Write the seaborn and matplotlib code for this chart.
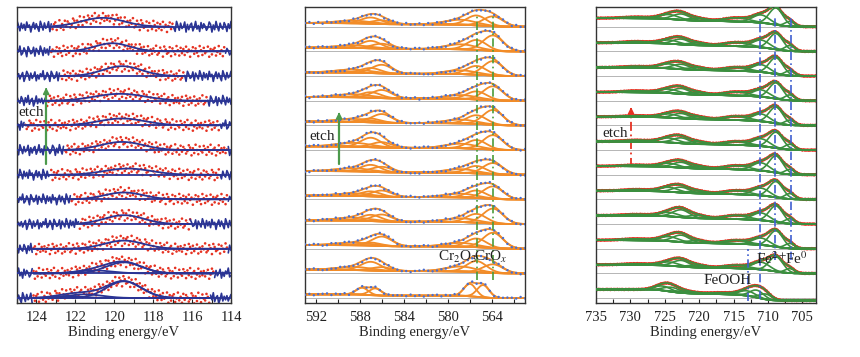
import numpy as np
import pandas as pd
import seaborn as sns
import matplotlib.pyplot as plt

sns.set_theme(style='ticks')
plt.rcParams['font.family'] = ['Liberation Serif', 'DejaVu Serif']
plt.rcParams['mathtext.fontset'] = 'stix'

# hand-read residual scatter (unit amplitude), reused along every spectrum
noise = [0.3, -0.5, 0.8, -0.2, -0.9, 0.4, 0.1, -0.6, 0.9, -0.3, 0.5, -0.8, 0.2, 0.7, -0.4,
         -0.1, 0.6, -0.7, 0.0, 0.9, -0.5, 0.3, -0.9, 0.4, 0.8, -0.2, -0.6, 0.1, 0.5, -0.3,
         0.7, -0.8, 0.2, -0.4, 0.9, -0.1, -0.7, 0.6, 0.3, -0.5, 0.4, -0.9, 0.8, 0.0, -0.3,
         0.6, -0.6, 0.2, 0.9, -0.8, -0.2, 0.5, -0.4, 0.7, 0.1, -0.9, 0.3, -0.1, 0.8, -0.6,
         0.4, -0.3, 0.6, -0.7, 0.2, 0.9, -0.5, 0.0, 0.5, -0.8, 0.7, -0.2, -0.4, 0.3, 0.8,
         -0.9, 0.1, 0.6, -0.3, -0.6, 0.9, -0.1, 0.4, -0.5, 0.2, -0.8, 0.7, 0.0, -0.4, 0.5,
         -0.7, 0.3, 0.8, -0.2, -0.9, 0.6, 0.1, -0.5, 0.4, -0.3]

# ---- panel 1 (rows listed bottom -> top) ----
si_center = [119.5, 119.5, 119.5, 119.5, 119.5, 119.3, 119.6, 119.6, 119.7, 119.6, 120.1, 120.6]
si_height = [0.68, 0.45, 0.33, 0.36, 0.28, 0.25, 0.33, 0.28, 0.28, 0.40, 0.33, 0.36]
si_sigma = [0.9, 0.9, 1.0, 1.0, 1.0, 1.2, 1.1, 1.2, 1.3, 1.0, 0.9, 1.1]
si_fit_lo = [124.2, 124.2, 124.2, 121.8, 122.2, 123.3, 122.6, 124.6, 123.5, 122.8, 123.3, 123.2]
si_fit_hi = [115.1, 114.9, 114.2, 116.1, 114.2, 114.6, 114.2, 114.6, 115.2, 116.4, 114.3, 117.0]
si_sh_row = [0, 0, 1]
si_sh_center = [121.5, 122.4, 121.0]
si_sh_height = [0.15, 0.08, 0.12]
si_sh_sigma = [0.9, 0.8, 0.9]

# ---- panel 2 ----
cr_center = [588.5, 587.0, 586.0, 578.8, 577.4, 575.9]
cr_sigma = [1.6, 0.9, 0.9, 1.4, 0.9, 0.9]
cr_height = [
    None,
    [0.12, 0.35, 0.15, 0.20, 0.45, 0.35],
    [0.10, 0.12, 0.38, 0.15, 0.35, 0.62],
    [0.12, 0.25, 0.28, 0.15, 0.35, 0.60],
    [0.10, 0.20, 0.25, 0.15, 0.30, 0.50],
    [0.12, 0.28, 0.22, 0.15, 0.30, 0.45],
    [0.15, 0.38, 0.22, 0.18, 0.35, 0.58],
    [0.12, 0.15, 0.35, 0.15, 0.35, 0.60],
    [0.12, 0.22, 0.33, 0.15, 0.32, 0.56],
    [0.12, 0.20, 0.35, 0.15, 0.35, 0.58],
    [0.10, 0.30, 0.20, 0.20, 0.40, 0.62],
    [0.10, 0.25, 0.15, 0.20, 0.40, 0.40],
]
cr0_center = [587.8, 586.6, 578.0, 576.8]
cr0_sigma = [0.55, 0.55, 0.55, 0.55]
cr0_height = [0.28, 0.28, 0.50, 0.50]
cr_lines = [577.4, 575.9]

# ---- panel 3 ----
fe_center = [729.0, 724.4, 722.6, 720.2, 714.5, 711.0, 708.8, 706.8]
fe_sigma = [1.8, 1.4, 1.2, 1.3, 1.8, 1.2, 1.0, 0.7]
fe_height = [
    None,
    [0.05, 0.15, 0.25, 0.10, 0.12, 0.30, 0.60, 0.18],
    [0.06, 0.18, 0.28, 0.10, 0.14, 0.28, 0.65, 0.20],
    [0.05, 0.16, 0.30, 0.12, 0.15, 0.30, 0.66, 0.20],
    [0.06, 0.18, 0.22, 0.10, 0.15, 0.30, 0.64, 0.22],
    [0.05, 0.15, 0.22, 0.10, 0.15, 0.32, 0.68, 0.20],
    [0.06, 0.18, 0.22, 0.10, 0.14, 0.30, 0.64, 0.22],
    [0.05, 0.15, 0.20, 0.10, 0.15, 0.30, 0.66, 0.20],
    [0.06, 0.16, 0.22, 0.10, 0.15, 0.28, 0.64, 0.22],
    [0.05, 0.18, 0.20, 0.10, 0.14, 0.30, 0.66, 0.20],
    [0.06, 0.15, 0.22, 0.10, 0.15, 0.30, 0.64, 0.22],
    [0.05, 0.18, 0.24, 0.10, 0.15, 0.32, 0.68, 0.20],
]
fe0_center = [725.3, 724.0, 722.0, 716.5, 713.0, 711.6, 710.3]
fe0_sigma = [1.2, 1.2, 1.5, 2.0, 1.2, 1.0, 0.9]
fe0_height = [0.18, 0.18, 0.08, 0.06, 0.20, 0.30, 0.22]
fe_lines = [711.2, 708.9, 706.7]
feooh_line = 712.9

n_rows = 12
blue = '#2a3494'
red = '#e63222'
orange = '#f28c28'
dotblue = '#4a6fd0'
green = '#3b8f3f'


def gauss(x, c, h, s):
    return h * np.exp(-0.5 * ((x - c) / s) ** 2)


def shirley(env, step):
    cum = np.cumsum(env)
    return step * cum / cum[-1]


def row_noise(k, n):
    return np.resize(np.roll(noise, 17 * k + 5), n)


def draw_lines(ax, curves, color, lw, z=2):
    df = pd.concat(curves, ignore_index=True)
    sns.lineplot(data=df, x='x', y='y', units='curve', estimator=None, sort=False,
                 color=color, lw=lw, ax=ax, legend=False, zorder=z)


def add(curves, x, y):
    curves.append(pd.DataFrame({'x': x, 'y': y, 'curve': len(curves)}))


def style(ax, xlim, major, minor, labels=None):
    ax.set_xlim(*xlim)
    ax.set_ylim(0, n_rows)
    ax.set_yticks([])
    ax.set_xticks(major)
    ax.set_xticks(minor, minor=True)
    if labels is not None:
        ax.set_xticklabels(labels)
    ax.tick_params(axis='x', which='both', direction='in', length=3, width=0.8,
                   labelsize=10.5, pad=6, colors='#222222')
    for sp in ax.spines.values():
        sp.set_color('#333333')
        sp.set_linewidth(1.0)
    ax.set_xlabel('Binding energy/eV', fontsize=10.5, labelpad=1)
    ax.set_ylabel('')


fig = plt.figure(figsize=(8.6, 3.57), dpi=100)
ax1 = fig.add_axes([17 / 860, 54 / 357, 214 / 860, 296 / 357])
ax2 = fig.add_axes([305 / 860, 54 / 357, 220 / 860, 296 / 357])
ax3 = fig.add_axes([596 / 860, 54 / 357, 220 / 860, 296 / 357])

# ---------- panel 1 ----------
x = np.round(np.arange(114.0, 125.0001, 0.07), 2)
fit_curves, data_curves = [], []
rx, ry = [], []
for k in range(n_rows):
    base = k + 0.2
    comps = [gauss(x, si_center[k], si_height[k], si_sigma[k])]
    for r, c, h, s in zip(si_sh_row, si_sh_center, si_sh_height, si_sh_sigma):
        if r == k:
            comps.append(gauss(x, c, h, s))
    env = np.sum(comps, axis=0)
    y = base + env + 0.24 * row_noise(k, len(x))
    inside = (x <= si_fit_lo[k]) & (x >= si_fit_hi[k])
    left = x >= si_fit_lo[k]
    right = x <= si_fit_hi[k]
    if left.sum() > 1:
        add(data_curves, x[left], y[left])
    if right.sum() > 1:
        add(data_curves, x[right], y[right])
    rx.extend(x[inside])
    ry.extend(y[inside])
    add(fit_curves, x, np.full(len(x), base))
    add(fit_curves, x[inside], base + env[inside])
    if len(comps) > 1:
        for c in comps:
            add(fit_curves, x[inside], base + c[inside])

sns.scatterplot(x=rx, y=ry, s=3.5, color=red, edgecolor='none', marker='o', ax=ax1, legend=False)
draw_lines(ax1, data_curves, blue, 1.2)
draw_lines(ax1, fit_curves, blue, 1.3, z=3)
ax1.plot([123.5, 123.5], [5.65, 8.6], color='#4c9a4c', lw=1.6)
ax1.annotate('', xy=(123.5, 8.85), xytext=(123.5, 8.5),
             arrowprops=dict(arrowstyle='-|>', color='#4c9a4c', lw=1.2, mutation_scale=9))
ax1.text(124.93, 7.74, 'etch', fontsize=11, ha='left', va='center', color='#222222')
style(ax1, (125.0, 114.0), [124, 122, 120, 118, 116, 114], np.arange(114, 125.5, 1.0))

# ---------- panel 2 ----------
x = np.round(np.arange(573.0, 593.0001, 0.1), 2)
line_curves = []
dx, dy = [], []
for k in range(n_rows):
    base = k + 0.2
    ax2.axhline(base, color='#aaaaaa', lw=0.6, zorder=1)
    if k == 0:
        comps = [gauss(x, c, h, s) for c, h, s in zip(cr0_center, cr0_height, cr0_sigma)]
    else:
        comps = [gauss(x, c, h, s) for c, h, s in zip(cr_center, cr_height[k], cr_sigma)]
    env = np.sum(comps, axis=0)
    bg = base + shirley(env, 0.15)
    add(line_curves, x, bg)
    for c in comps:
        add(line_curves, x, bg + c)
    add(line_curves, x, bg + env)
    y = bg + env + 0.05 * row_noise(k + 3, len(x))
    dx.extend(x[::4])
    dy.extend(y[::4])

draw_lines(ax2, line_curves, orange, 1.3)
sns.scatterplot(x=dx, y=dy, s=3, color=dotblue, edgecolor='none', ax=ax2, legend=False, zorder=3)
for xv in cr_lines:
    ax2.plot([xv, xv], [0.93, 11.65], color='#4a9c3a', lw=1.2, ls=(0, (5, 2, 1, 2)), zorder=4)
ax2.plot([589.9, 589.9], [5.63, 7.6], color='#4c9a4c', lw=1.6)
ax2.annotate('', xy=(589.9, 7.85), xytext=(589.9, 7.5),
             arrowprops=dict(arrowstyle='-|>', color='#4c9a4c', lw=1.2, mutation_scale=9))
ax2.text(592.6, 6.73, 'etch', fontsize=11, ha='left', va='center', color='#222222')
ax2.text(579.1, 1.86, r'Cr$_2$O$_3$', fontsize=11, ha='center', va='center', color='#222222', zorder=5)
ax2.text(576.1, 1.86, r'CrO$_x$', fontsize=11, ha='center', va='center', color='#222222', zorder=5)
style(ax2, (593.0, 573.0), [592, 588, 584, 580, 576], np.arange(574, 593, 2),
      labels=['592', '588', '584', '580', '564'])

# ---------- panel 3 ----------
x = np.round(np.arange(703.0, 735.0001, 0.1), 2)
line_curves = []
dx, dy = [], []
for k in range(n_rows):
    base = k + 0.2 if k > 0 else 0.1
    ax3.axhline(k + 0.2, color='#aaaaaa', lw=0.6, zorder=1)
    if k == 0:
        comps = [gauss(x, c, h, s) for c, h, s in zip(fe0_center, fe0_height, fe0_sigma)]
        step = 0.45
    else:
        comps = [gauss(x, c, h, s) for c, h, s in zip(fe_center, fe_height[k], fe_sigma)]
        step = 0.35
    env = np.sum(comps, axis=0)
    bg = base + shirley(env, step)
    y = bg + env + 0.02 * row_noise(k + 7, len(x))
    dx.extend(x)
    dy.extend(y)
    add(line_curves, x, bg)
    for c in comps:
        add(line_curves, x, bg + c)
    add(line_curves, x, bg + env)

sns.scatterplot(x=dx, y=dy, s=4, color=red, edgecolor='none', ax=ax3, legend=False, zorder=2)
draw_lines(ax3, line_curves, green, 1.2, z=3)
dashdot = (0, (5, 2, 1, 2))
ax3.plot([fe_lines[0], fe_lines[0]], [0.15, 11.65], color='#3f5fd0', lw=1.2, ls=dashdot, zorder=4)
ax3.plot([fe_lines[1], fe_lines[1]], [1.75, 11.65], color='#3f5fd0', lw=1.2, ls=dashdot, zorder=4)
ax3.plot([fe_lines[2], fe_lines[2]], [1.75, 11.65], color='#3f5fd0', lw=1.2, ls=dashdot, zorder=4)
ax3.plot([feooh_line, feooh_line], [0.1, 2.2], color='#3f5fd0', lw=1.2, ls=dashdot, zorder=4)
ax3.plot([729.9, 729.9], [5.51, 7.8], color=red, lw=1.3, ls=dashdot)
ax3.annotate('', xy=(729.9, 8.05), xytext=(729.9, 7.7),
             arrowprops=dict(arrowstyle='-|>', color=red, lw=1.2, mutation_scale=9))
ax3.text(734.1, 6.89, 'etch', fontsize=11, ha='left', va='center', color='#222222')
ax3.text(709.5, 1.78, r'Fe$^{2+}$', fontsize=11, ha='center', va='center', color='#222222', zorder=5)
ax3.text(705.9, 1.78, r'Fe$^{0}$', fontsize=11, ha='center', va='center', color='#222222', zorder=5)
ax3.text(715.9, 0.93, 'FeOOH', fontsize=11, ha='center', va='center', color='#222222', zorder=5)
style(ax3, (735.0, 703.0), [735, 730, 725, 720, 715, 710, 705], np.arange(705, 735.1, 2.5))

fig.savefig('out.png', dpi=100, facecolor='white')
